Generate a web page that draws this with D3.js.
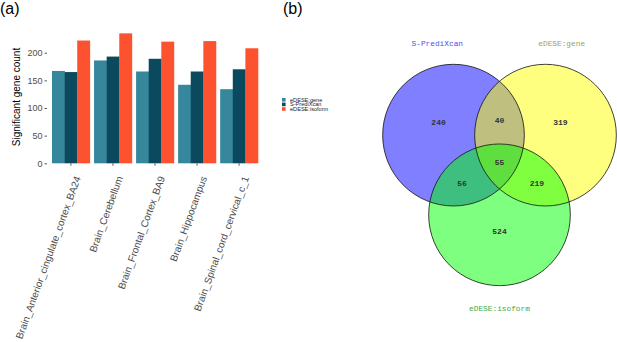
<!DOCTYPE html>
<html>
<head>
<meta charset="utf-8">
<script src="https://cdn.jsdelivr.net/npm/d3@7"></script>
<style>
  body { margin: 0; background: #fff; }
  svg { display: block; }
</style>
</head>
<body>
<script>
// bar chart data (a)
const tissues = ['Brain_Anterior_cingulate_cortex_BA24', 'Brain_Cerebellum', 'Brain_Frontal_Cortex_BA9', 'Brain_Hippocampus', 'Brain_Spinal_cord_cervical_c_1']
const methods = ['eDESE:gene', 'S-PrediXcan', 'eDESE:isoform']
const edeseGene = [167, 186, 166, 142, 134]
const sPrediXcan = [165, 193, 189, 166, 170]
const edeseIsoform = [222, 235, 220, 221, 208]
const yTicks = [0, 50, 100, 150, 200]

// venn data (b)
const vennSets = ['S-PrediXcan', 'eDESE:gene', 'eDESE:isoform']
// regions: only A, A&B, only B, A&C, A&B&C, B&C, only C
const vennCounts = [240, 40, 319, 56, 55, 219, 524]

const width = 617
const height = 342
const barColors = ['#36879b', '#0b4a5e', '#fc5230']

const svg = d3.select('body').append('svg')
    .attr('width', width)
    .attr('height', height)

// panel letters
svg.append('text').attr('x', 0).attr('y', 14)
    .attr('font-family', 'Liberation Sans, Arial').attr('font-size', 16).text('(a)')
svg.append('text').attr('x', 283).attr('y', 14)
    .attr('font-family', 'Liberation Sans, Arial').attr('font-size', 16).text('(b)')

// ---------- bar chart ----------
const rows = tissues.map((t, i) => ({ tissue: t, values: [edeseGene[i], sPrediXcan[i], edeseIsoform[i]] }))

let xScale = d3.scaleBand()
    .domain(tissues)
    .range([52, 258])
    .paddingInner(0.1)
    .paddingOuter(0)
let xSub = d3.scaleBand()
    .domain(methods)
    .range([0, xScale.bandwidth()])
let yScale = d3.scaleLinear()
    .domain([0, 200])
    .range([163.3, 52.7])

svg.selectAll('g.grp')
    .data(rows)
    .enter().append('g')
    .attr('class', 'grp')
    .attr('transform', d => 'translate(' + xScale(d.tissue) + ',0)')
    .selectAll('rect')
    .data(d => d.values.map((v, j) => ({ key: methods[j], value: v, j: j })))
    .enter().append('rect')
    .attr('x', d => xSub(d.key))
    .attr('y', d => yScale(d.value))
    .attr('width', xSub.bandwidth() + 0.3)
    .attr('height', d => yScale(0) - yScale(d.value))
    .attr('fill', d => barColors[d.j])

// y axis
let y_axis = d3.axisLeft(yScale).tickValues(yTicks).tickSize(2.5).tickPadding(2)
let gy = svg.append('g')
    .attr('transform', 'translate(47,0)')
    .call(y_axis)
gy.select('.domain').remove()
gy.selectAll('line').attr('stroke', '#333').attr('stroke-width', 0.8)
gy.selectAll('text').attr('fill', '#4d4d4d').attr('font-size', 9)
    .attr('font-family', 'Liberation Sans, Arial')

svg.append('text')
    .attr('transform', 'translate(20,97) rotate(-90)')
    .attr('text-anchor', 'middle')
    .attr('font-family', 'Liberation Sans, Arial')
    .attr('font-size', 10)
    .text('Significant gene count')

// x axis
let x_axis = d3.axisBottom(xScale).tickSize(2.5).tickPadding(2)
let gx = svg.append('g')
    .attr('transform', 'translate(0,' + yScale(0) + ')')
    .call(x_axis)
gx.select('.domain').remove()
gx.selectAll('line').attr('stroke', '#333').attr('stroke-width', 0.8)
gx.selectAll('text')
    .attr('fill', '#4d4d4d')
    .attr('font-size', 10)
    .attr('font-family', 'Liberation Sans, Arial')
    .attr('text-anchor', 'end')
    .attr('x', 0).attr('y', 0).attr('dy', '0.7em')
    .attr('transform', 'translate(3.5,12) rotate(-70)')

// legend
let legend = svg.append('g').attr('transform', 'translate(282,98)')
methods.forEach((m, i) => {
    legend.append('rect')
        .attr('x', 0).attr('y', i * 4.6)
        .attr('width', 3.6).attr('height', 3.6)
        .attr('fill', barColors[i])
    legend.append('text')
        .attr('x', 8).attr('y', i * 4.6 + 1.8)
        .attr('dy', '0.35em')
        .attr('font-family', 'Liberation Sans, Arial')
        .attr('font-size', 5.6)
        .attr('fill', '#222')
        .text(m)
})

// ---------- venn diagram ----------
const cx = 499.5, cy = 161.7
const unit = d3.scaleLinear().domain([0, 1]).range([0, 92])   // 1 unit = distance between centres
const rad = unit(0.77)
const setAngles = [210, 330, 90]
const vennFill = ['#0000ff', '#ffff00', '#00ff00']
const labelColors = ['#5050ee', '#a0a060', '#40a848']
const toXY = (angle, dist) => [cx + Math.cos(angle * Math.PI / 180) * dist, cy + Math.sin(angle * Math.PI / 180) * dist]
const centres = setAngles.map(a => toXY(a, unit(1 / Math.sqrt(3))))

let venn = svg.append('g')
venn.selectAll('circle.fill')
    .data(centres)
    .enter().append('circle')
    .attr('class', 'fill')
    .attr('cx', d => d[0]).attr('cy', d => d[1]).attr('r', rad)
    .attr('fill', (d, i) => vennFill[i])
    .attr('fill-opacity', 0.5)
venn.selectAll('circle.line')
    .data(centres)
    .enter().append('circle')
    .attr('class', 'line')
    .attr('cx', d => d[0]).attr('cy', d => d[1]).attr('r', rad)
    .attr('fill', 'none')
    .attr('stroke', '#111')
    .attr('stroke-width', 0.8)

// label positions: unique regions outward along set direction, pairs opposite to third set
const regionPos = [
    toXY(213, unit(0.79)),
    toXY(270, unit(0.45)),
    toXY(327, unit(0.79)),
    toXY(150, unit(0.47)),
    [cx, cy],
    toXY(30, unit(0.47)),
    toXY(90, unit(0.75))
]
venn.selectAll('text.count')
    .data(vennCounts)
    .enter().append('text')
    .attr('class', 'count')
    .attr('x', (d, i) => regionPos[i][0])
    .attr('y', (d, i) => regionPos[i][1])
    .attr('dy', '0.35em')
    .attr('text-anchor', 'middle')
    .attr('font-family', 'Liberation Mono, monospace')
    .attr('font-size', 8)
    .attr('font-weight', 'bold')
    .attr('fill', '#333')
    .text(d => d)

const catAngles = [-100, -80, 90]
venn.selectAll('text.cat')
    .data(vennSets)
    .enter().append('text')
    .attr('class', 'cat')
    .attr('x', (d, i) => centres[i][0] + Math.cos(catAngles[i] * Math.PI / 180) * (rad + 22.5))
    .attr('y', (d, i) => centres[i][1] + Math.sin(catAngles[i] * Math.PI / 180) * (rad + 22.5))
    .attr('dy', '0.35em')
    .attr('text-anchor', 'middle')
    .attr('font-family', 'Liberation Mono, monospace')
    .attr('font-size', 7.8)
    .attr('fill', (d, i) => labelColors[i])
    .text(d => d)
</script>
</body>
</html>
